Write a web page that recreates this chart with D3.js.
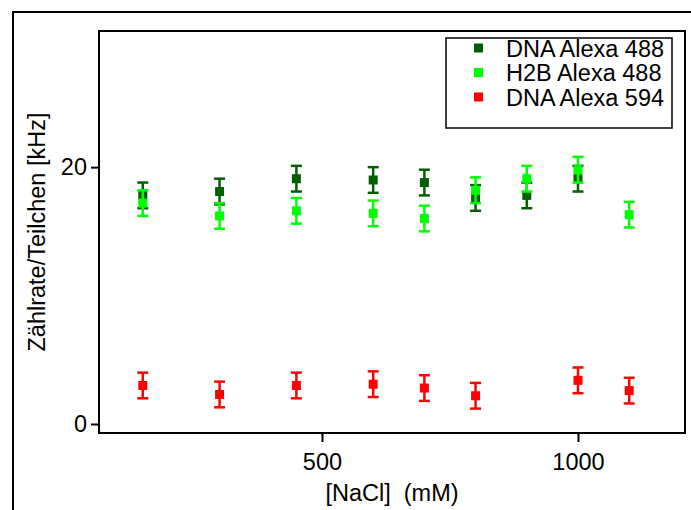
<!DOCTYPE html>
<html>
<head>
<meta charset="utf-8">
<script src="https://cdn.jsdelivr.net/npm/d3@7"></script>
<style>
  body { margin: 0; background: #fff; }
  text { font-family: "Liberation Sans", Arial, sans-serif; fill: #000; }
</style>
</head>
<body>
<div class="graph"></div>
<script>
// concentrations (mM)
var nacl = [150, 300, 450, 600, 700, 800, 900, 1000, 1100];
// count rate per particle (kHz), null = not measured
var dna488 = [17.8, 18.1, 19.1, 19.0, 18.8, 17.6, 17.8, 19.1, null];
var h2b488 = [17.2, 16.2, 16.6, 16.4, 16.0, 18.2, 19.1, 19.8, 16.3];
var dna594 = [3.0, 2.3, 3.0, 3.1, 2.8, 2.2, null, 3.4, 2.6];
var errs = 1.0;
var seriesNames = ["DNA Alexa 488", "H2B Alexa 488", "DNA Alexa 594"];
var seriesColors = ["#006000", "#00ff00", "#ff0000"];
var xTicks = [500, 1000];
var yTicks = [0, 20];

var width = 691, height = 510;
var margin = { top: 31, right: 6, bottom: 77, left: 99 };
var w = width - margin.left - margin.right;
var h = height - margin.top - margin.bottom;
var fs = "23.5px";

var svg = d3.select(".graph").append("svg")
    .attr("width", width)
    .attr("height", height);

// outer frame
svg.append("path")
  .attr("d", "M13,510 V12 H691")
  .attr("fill", "none").attr("stroke", "#000").attr("stroke-width", 2);

var x = d3.scaleLinear().domain([64.5, 1209]).range([0, w]);
var y = d3.scaleLinear().domain([-0.7, 30.6]).range([h, 0]);

var g = svg.append("g").attr("transform", "translate(" + margin.left + "," + margin.top + ")");

// plot box
g.append("rect").attr("width", w).attr("height", h)
  .attr("fill", "none").attr("stroke", "#000").attr("stroke-width", 2);

// axes
var xAxis = g.append("g").attr("transform", "translate(0," + h + ")")
  .call(d3.axisBottom(x).tickValues(xTicks).tickSize(9).tickPadding(11).tickFormat(d3.format("d")));
var yAxis = g.append("g")
  .call(d3.axisLeft(y).tickValues(yTicks).tickSize(8).tickPadding(4).tickFormat(d3.format("d")));
[xAxis, yAxis].forEach(function (a) {
  a.select(".domain").remove();
  a.selectAll("line").attr("stroke", "#000").attr("stroke-width", 2);
  a.selectAll("text").style("font-size", fs).attr("fill", "#000");
});

// titles
svg.append("text")
  .attr("x", margin.left + w / 2).attr("y", 501)
  .attr("text-anchor", "middle").style("font-size", fs).style("white-space", "pre")
  .text("[NaCl]  (mM)");
svg.append("text")
  .attr("transform", "translate(45," + (margin.top + h / 2) + ") rotate(-90)")
  .attr("text-anchor", "middle").style("font-size", fs)
  .text("Zählrate/Teilchen [kHz]");

// data series
var allSeries = [dna488, h2b488, dna594];
allSeries.forEach(function (vals, si) {
  var pts = nacl.map(function (c, i) { return { c: c, v: vals[i] }; })
    .filter(function (d) { return d.v !== null; });
  var col = seriesColors[si];
  var s = g.append("g");
  var eb = s.selectAll(".err").data(pts).enter().append("g");
  eb.append("line")
    .attr("x1", function (d) { return x(d.c); }).attr("x2", function (d) { return x(d.c); })
    .attr("y1", function (d) { return y(d.v - errs); }).attr("y2", function (d) { return y(d.v + errs); })
    .attr("stroke", col).attr("stroke-width", 2.5);
  [-1, 1].forEach(function (sg) {
    eb.append("line")
      .attr("x1", function (d) { return x(d.c) - 5.5; }).attr("x2", function (d) { return x(d.c) + 5.5; })
      .attr("y1", function (d) { return y(d.v + sg * errs); }).attr("y2", function (d) { return y(d.v + sg * errs); })
      .attr("stroke", col).attr("stroke-width", 2.5);
  });
  s.selectAll("rect").data(pts).enter().append("rect")
    .attr("x", function (d) { return x(d.c) - 4.5; })
    .attr("y", function (d) { return y(d.v) - 4.5; })
    .attr("width", 9).attr("height", 9)
    .attr("fill", col);
});

// legend
var lg = svg.append("g").attr("transform", "translate(446,38)");
lg.append("rect").attr("width", 226).attr("height", 90)
  .attr("fill", "#fff").attr("stroke", "#000").attr("stroke-width", 1.5);
seriesNames.forEach(function (n, i) {
  lg.append("rect").attr("x", 28).attr("y", 10 + i * 24.5 - 4.5)
    .attr("width", 9).attr("height", 9).attr("fill", seriesColors[i]);
  lg.append("text").attr("x", 60).attr("y", 10 + i * 24.5 + 8.5)
    .style("font-size", fs).text(n);
});
</script>
</body>
</html>
